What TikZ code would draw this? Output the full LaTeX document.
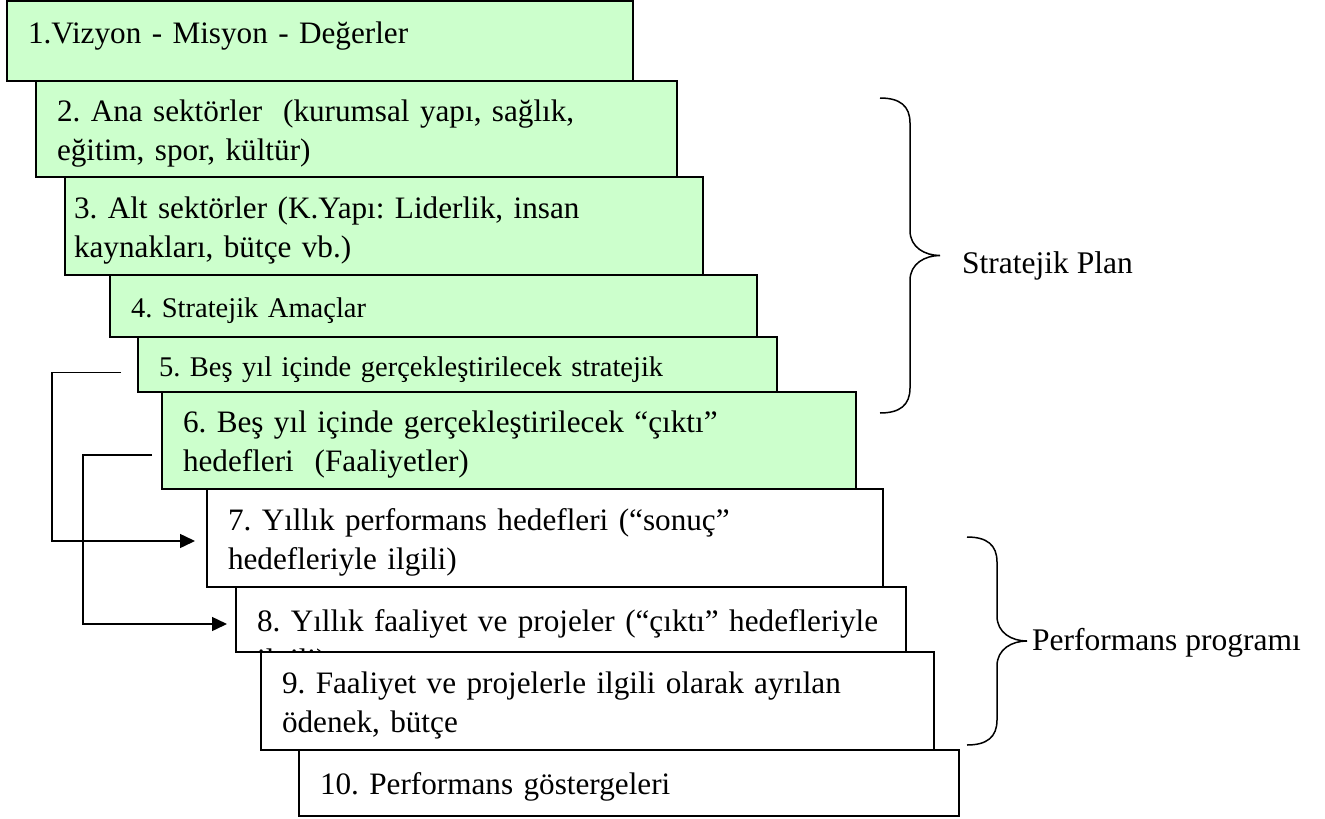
\documentclass[tikz,border=0pt]{standalone}
\usepackage{fontspec}
\setmainfont{Liberation Serif}
\usepackage{xcolor}
\usepackage{tikz}
\usetikzlibrary{positioning,calc}
\usetikzlibrary{arrows.meta}
\definecolor{yesil}{RGB}{204,255,204}
\frenchspacing
\tikzset{
  kutu/.style={draw=black,line width=2pt,rectangle,anchor=north west,
    outer sep=0pt,inner xsep=21pt,inner ysep=0pt,align=left,
    font=\fontsize{31.2}{39}\selectfont,
    execute at begin node={\rule{0pt}{30pt}}},
  kucuk/.style={font=\fontsize{28.5}{36}\selectfont},
  ok/.style={line width=1.5pt,-{Triangle[length=15pt,width=14pt]}},
  parantez/.style={line width=1.5pt},
  etiket/.style={font=\fontsize{31.5}{39}\selectfont,inner sep=0pt}
}
\newcommand{\parantez}[4]{%
  % #1 x of the two ends (px)
  % #2 y of the upper end
  % #3 y of the lower end
  % #4 name of the tip coordinate
  \pgfmathsetmacro{\orta}{(#2+#3)/2}%
  \draw[parantez] (#1,#2)
    .. controls ({#1+20},#2) and ({#1+30},{#2+8}) .. ({#1+30},{#2+25})
    -- ({#1+30},{\orta-25})
    .. controls ({#1+30},{\orta-8}) and ({#1+45},\orta) .. ({#1+60},\orta)
    coordinate (#4)
    .. controls ({#1+45},\orta) and ({#1+30},{\orta+8}) .. ({#1+30},{\orta+25})
    -- ({#1+30},{#3-25})
    .. controls ({#1+30},{#3-8}) and ({#1+20},#3) .. (#1,#3);%
}

\begin{document}
\begin{tikzpicture}[x=1pt,y=-1pt]
  \useasboundingbox (0,0) rectangle (1325,819);
  % strategic plan steps
  \node[kutu,fill=yesil,minimum width=626pt,minimum height=80pt,
    text width=584pt,text depth=26pt] (vizyon) at (7,1)
    {1.Vizyon - Misyon - Değerler};
  \node[kutu,fill=yesil,minimum width=641pt,minimum height=96pt,
    text width=599pt] (sektor) at (36,81)
    {2. Ana sektörler~ (kurumsal yapı, sağlık,\\eğitim, spor, kültür)};
  \node[kutu,fill=yesil,minimum width=638pt,minimum height=98pt,
    inner xsep=9pt,text width=620pt] (altsektor) at (65,177)
    {3. Alt sektörler (K.Yapı: Liderlik, insan\\kaynakları, bütçe vb.)};
  \node[kutu,kucuk,fill=yesil,minimum width=647pt,minimum height=62pt,
    text width=605pt] (amac) at (110,275)
    {4. Stratejik Amaçlar};
  \node[kutu,kucuk,fill=yesil,minimum width=639pt,minimum height=55pt,
    text width=597pt] (sonuc) at (138,337)
    {5. Beş yıl içinde gerçekleştirilecek stratejik};
  \node[kutu,fill=yesil,minimum width=694pt,minimum height=97pt,
    text width=652pt] (cikti) at (162,392)
    {6. Beş yıl içinde gerçekleştirilecek “çıktı”\\hedefleri~ (Faaliyetler)};
  % performance programme steps
  \node[kutu,fill=white,minimum width=676pt,minimum height=98pt,
    text width=634pt] (yillikperf) at (207,489)
    {7. Yıllık performans hedefleri (“sonuç”\\hedefleriyle ilgili)};
  \node[kutu,fill=white,minimum width=670pt,minimum height=65pt,
    text width=628pt] (yillikfaal) at (236,587)
    {8. Yıllık faaliyet ve projeler (“çıktı” hedefleriyle};
  \begin{scope}
    \clip (yillikfaal.south west) rectangle (yillikfaal.north east);
    \node[anchor=base west,inner sep=0pt,font=\fontsize{31.2}{39}\selectfont]
      (ilgili) at ($(yillikfaal.base -| yillikfaal.west)+(21,39)$) {ilgili)};
  \end{scope}
  \node[kutu,fill=white,minimum width=673pt,minimum height=98pt,
    text width=631pt] (odenek) at (261,652)
    {9. Faaliyet ve projelerle ilgili olarak ayrılan\\ödenek, bütçe};
  \node[kutu,fill=white,minimum width=660pt,minimum height=66pt,
    text width=618pt] (gosterge) at (299,750)
    {10. Performans göstergeleri};
  % links from the goals to the yearly steps
  \coordinate (ok1bas) at ($(sonuc.west)+(-17,8)$);
  \coordinate (ok1son) at ($(yillikperf.west)+(-12,3)$);
  \draw[ok] (ok1bas) -- ++(-69,0) |- (ok1son);
  \coordinate (ok2bas) at ($(cikti.west)+(-10,14.5)$);
  \coordinate (ok2son) at ($(yillikfaal.west)+(-9,4.5)$);
  \draw[ok] (ok2bas) -- ++(-69,0) |- (ok2son);
  % braces
  \parantez{880}{98}{413}{sptip}
  \node[etiket,right=22pt of sptip,yshift=-10pt] (stratejikplan) {Stratejik Plan};
  \parantez{967}{537}{745}{pptip}
  \node[etiket,right=5pt of pptip,yshift=-2pt] (performansprog) {Performans programı};
\end{tikzpicture}
\end{document}
